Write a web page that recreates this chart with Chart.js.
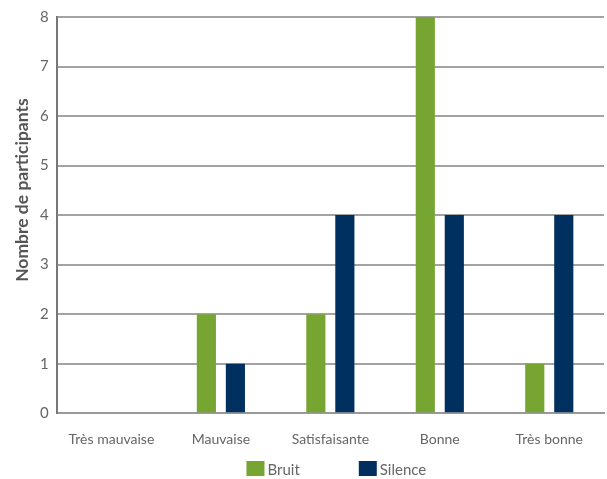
<!DOCTYPE html>
<html>
<head>
<meta charset="utf-8">
<script src="https://cdn.jsdelivr.net/npm/chart.js@4"></script>
<style>
  html, body { margin: 0; padding: 0; background: #fff; }
  #wrap { width: 607px; height: 479px; }
</style>
</head>
<body>
<div id="wrap"><canvas id="graphique" width="607" height="479"></canvas></div>
<script>
const categories = ['Très mauvaise', 'Mauvaise', 'Satisfaisante', 'Bonne', 'Très bonne'];
const bruit = [0, 2, 2, 8, 1];
const silence = [0, 1, 4, 4, 4];
const ticksY = [0, 1, 2, 3, 4, 5, 6, 7, 8];
const titreY = 'Nombre de participants';

const police = 'Lato, "Open Sans", sans-serif';

// légende dessinée à la main (écart large entre les deux entrées) + titre de l'axe Y
const decor = {
    id: 'decor',
    afterDraw(chart) {
        const c = chart.ctx;
        const zone = chart.chartArea;
        const ecart = 59;
        c.save();
        c.font = '15px ' + police;
        c.textBaseline = 'middle';
        const items = chart.data.datasets.map(ds => ({
            texte: ds.label,
            couleur: ds.backgroundColor,
            largeur: 18 + 3 + c.measureText(ds.label).width
        }));
        const total = items.reduce((s, it) => s + it.largeur, 0) + ecart * (items.length - 1);
        let x = (zone.left + zone.right) / 2 + 6 - total / 2;
        const y = chart.height - 10;
        items.forEach(it => {
            c.fillStyle = it.couleur;
            c.fillRect(x, y - 8, 18, 15);
            c.fillStyle = '#666';
            c.fillText(it.texte, x + 21, y + 1);
            x += it.largeur + ecart;
        });

        // titre vertical
        c.translate(22, (zone.top + zone.bottom) / 2 - 25);
        c.rotate(-Math.PI / 2);
        c.font = 'bold 17.5px ' + police;
        c.textAlign = 'center';
        c.fillStyle = '#555';
        c.fillText(titreY, 0, 0);
        c.restore();
    }
};

const ctx = document.getElementById('graphique').getContext('2d');
new Chart(ctx, {
    type: 'bar',
    data: {
        labels: categories,
        datasets: [{
            label: 'Bruit',
            data: bruit,
            backgroundColor: '#76a532',
            categoryPercentage: 0.53,
            barPercentage: 0.66
        }, {
            label: 'Silence',
            data: silence,
            backgroundColor: '#00305f',
            categoryPercentage: 0.53,
            barPercentage: 0.66
        }]
    },
    options: {
        responsive: false,
        animation: false,
        layout: { padding: { left: 32, right: 3, top: 10, bottom: 21 } },
        plugins: {
            tooltip: { enabled: false },
            legend: { display: false }
        },
        scales: {
            x: {
                grid: { display: false },
                border: { color: '#999', width: 2 },
                ticks: { color: '#666', padding: 10, font: { family: police, size: 14 } }
            },
            y: {
                min: 0,
                max: 8,
                afterBuildTicks: (axe) => { axe.ticks = ticksY.map(v => ({ value: v })); },
                grid: { color: '#a3a3a3', lineWidth: 2, drawTicks: false },
                border: { color: '#777', width: 2 },
                ticks: { color: '#666', padding: 8, font: { family: police, size: 15 } }
            }
        }
    },
    plugins: [decor]
});
</script>
</body>
</html>
